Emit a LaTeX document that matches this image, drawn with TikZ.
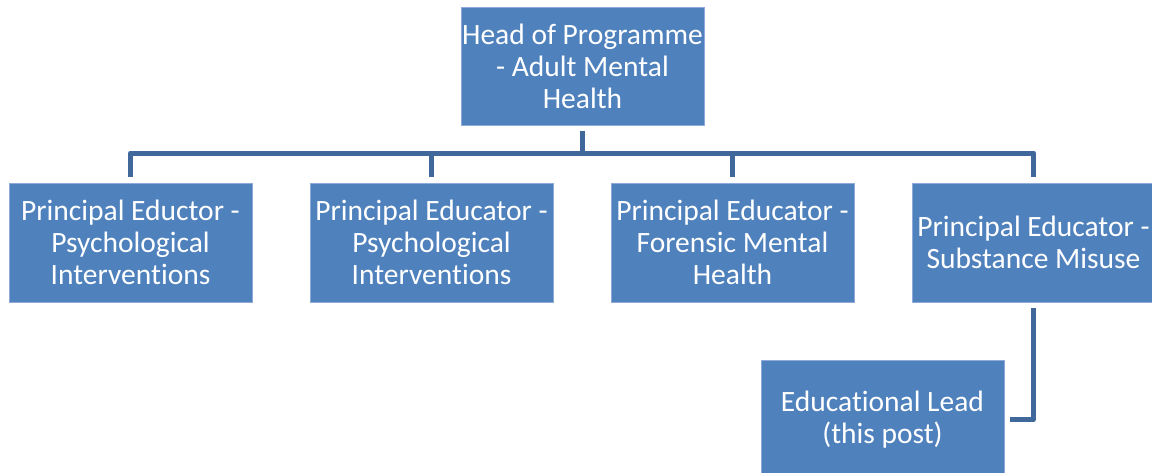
\documentclass[tikz,border=0pt]{standalone}
\usepackage{fontspec}
\setmainfont[Ligatures=NoCommon]{Carlito}
\usepackage{tikz}
\usetikzlibrary{positioning,calc}

\definecolor{boxblue}{HTML}{4F81BD}
\definecolor{boxedge}{HTML}{8EAADB}
\definecolor{linkblue}{HTML}{40689A}

\begin{document}
\begin{tikzpicture}[
    x=1pt, y=-1pt,
    post/.style={rectangle, draw=boxedge, line width=0.8pt, fill=boxblue, text=white,
        minimum width=243pt, minimum height=119pt, align=center, inner sep=1pt,
        font=\fontsize{29.5}{32}\selectfont},
    link/.style={draw=linkblue, line width=5pt, line join=round}
]
    \useasboundingbox (0,0) rectangle (1152,472);

    \node[post, minimum height=118pt] (head) at (582.5,66) {Head of Programme\\- Adult Mental\\Health};
    \node[post] (psyA) at (130.5,242.5) {Principal Eductor -\\Psychological\\Interventions};
    \node[post] (psyB) at (431.5,242.5) {Principal Educator -\\Psychological\\Interventions};
    \node[post] (foren) at (732.5,242.5) {Principal Educator -\\Forensic Mental\\Health};
    \node[post] (subst) at (1033.5,242.5) {Principal Educator -\\Substance Misuse};
    \node[post] (lead) at (882.5,419.5) {Educational Lead\\(this post)};

    \coordinate (bus) at (582.5,153);

    \draw[link, shorten <=6pt] (head) -- (bus);
    \foreach \b in {psyA,psyB,foren,subst}
        \draw[link, shorten >=6pt] (bus) -| (\b.north);
    \draw[link, shorten <=6pt, shorten >=6pt] (subst.south) |- (lead.east);
\end{tikzpicture}
\end{document}
